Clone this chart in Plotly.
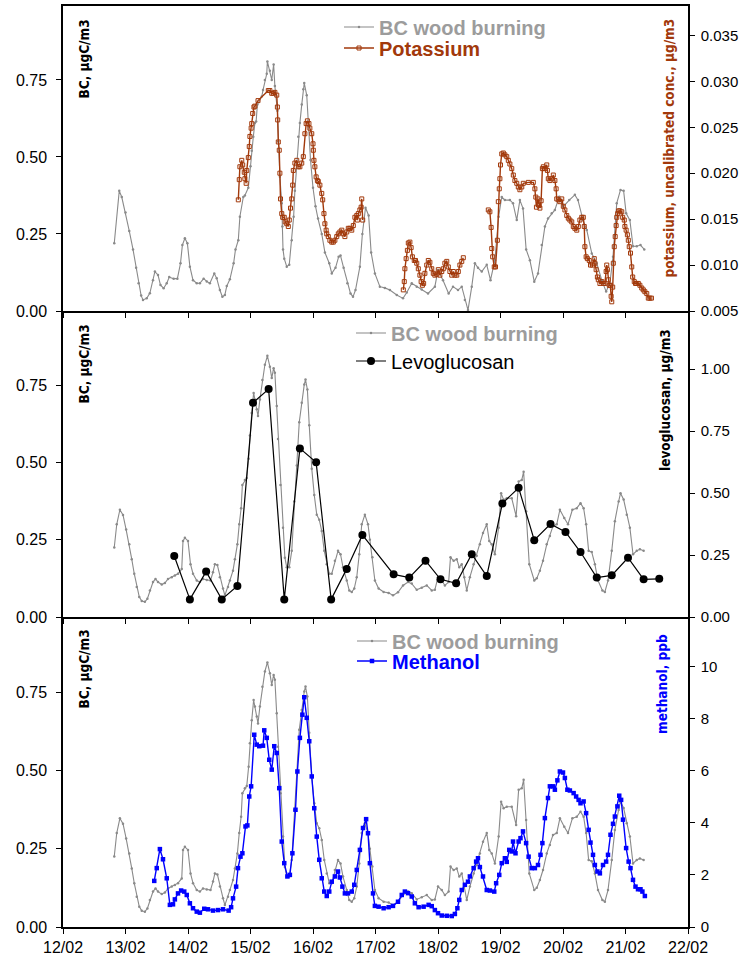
import numpy as np
import pandas as pd
import plotly.graph_objects as go

# ---------------- data (time = day of February, fractional) ----------------
# BC wood burning, series shown with potassium
bc_k_day = [12.82, 12.90, 12.94, 13.00, 13.06, 13.12, 13.17, 13.21, 13.25, 13.28, 13.34, 13.39, 13.44,
            13.47, 13.52, 13.56, 13.61, 13.66, 13.70, 13.77, 13.83, 13.88, 13.91, 13.95, 13.99, 14.03,
            14.08, 14.14, 14.19, 14.25, 14.30, 14.35, 14.42, 14.46, 14.51, 14.55, 14.59, 14.62, 14.67,
            14.73, 14.76, 14.805, 14.83, 14.885, 14.91, 14.965, 15.00, 15.02, 15.045, 15.07, 15.09,
            15.11, 15.18, 15.20, 15.23, 15.26, 15.27, 15.31, 15.34, 15.37, 15.39, 15.43, 15.445, 15.47,
            15.50, 15.51, 15.52, 15.54, 15.58, 15.62, 15.66, 15.69, 15.71, 15.74, 15.765, 15.79, 15.82,
            15.845, 15.86, 15.90, 15.93, 15.96, 16.00, 16.04, 16.08, 16.14, 16.19, 16.26, 16.30, 16.36,
            16.41, 16.44, 16.49, 16.55, 16.60, 16.64, 16.68, 16.75, 16.79, 16.84, 16.89, 16.93, 16.99,
            17.07, 17.15, 17.23, 17.34, 17.44, 17.50, 17.58, 17.66, 17.74, 17.84, 17.95, 18.00, 18.08,
            18.17, 18.24, 18.32, 18.38, 18.43, 18.48, 18.54, 18.59, 18.64, 18.70, 18.78, 18.84, 18.91,
            18.97, 19.02, 19.07, 19.15, 19.20, 19.26, 19.31, 19.36, 19.41, 19.47, 19.54, 19.60, 19.66,
            19.71, 19.76, 19.82, 19.87, 19.94, 20.00, 20.10, 20.19, 20.24, 20.32, 20.38, 20.46, 20.54,
            20.62, 20.69, 20.75, 20.80, 20.86, 20.92, 20.97, 21.01, 21.07, 21.12, 21.18, 21.24, 21.30]
bc_k = [0.22, 0.39, 0.37, 0.32, 0.26, 0.20, 0.14, 0.09, 0.05, 0.036, 0.041, 0.058, 0.10,
        0.128, 0.117, 0.084, 0.074, 0.09, 0.11, 0.105, 0.105, 0.155, 0.214, 0.236, 0.22, 0.144,
        0.10, 0.09, 0.09, 0.105, 0.096, 0.09, 0.122, 0.106, 0.068, 0.046, 0.052, 0.081, 0.103,
        0.155, 0.20, 0.23, 0.306, 0.37, 0.375, 0.40, 0.47, 0.52, 0.566, 0.61, 0.615,
        0.67, 0.696, 0.717, 0.75, 0.77, 0.81, 0.78, 0.75, 0.80, 0.73, 0.65, 0.55, 0.436,
        0.35, 0.274, 0.20, 0.17, 0.144, 0.15, 0.23, 0.306, 0.39, 0.48, 0.566, 0.61, 0.67,
        0.72, 0.74, 0.70, 0.60, 0.49, 0.40, 0.34, 0.30, 0.25, 0.19, 0.155, 0.122, 0.14,
        0.176, 0.18, 0.14, 0.09, 0.057, 0.046, 0.068, 0.144, 0.25, 0.335, 0.31, 0.19, 0.122,
        0.079, 0.075, 0.068, 0.052, 0.041, 0.06, 0.09, 0.079, 0.07, 0.057, 0.079, 0.133, 0.10,
        0.057, 0.079, 0.068, 0.079, 0.036, 0.003, 0.079, 0.155, 0.14, 0.128, 0.15, 0.10, 0.165,
        0.306, 0.37, 0.36, 0.36, 0.35, 0.295, 0.36, 0.333, 0.20, 0.165, 0.095, 0.122, 0.214,
        0.274, 0.30, 0.317, 0.328, 0.371, 0.338, 0.36, 0.377, 0.36, 0.295, 0.263, 0.187, 0.155,
        0.10, 0.063, 0.09, 0.176, 0.35, 0.393, 0.39, 0.317, 0.295, 0.21, 0.21, 0.214, 0.20]

# Potassium, uncalibrated (None = no data)
k_day = [14.805, 14.82, 14.83, 14.86, 14.875, 14.90, 14.91, 14.93, 14.94, 14.965, 14.98, 14.99, 15.01,
         15.02, 15.035, 15.055, 15.07, 15.12, 15.285, 15.31, 15.34, 15.365, 15.39, 15.42, 15.43, 15.435,
         15.445, 15.46, 15.47, 15.48, 15.50, 15.515, 15.54, 15.555, 15.58, 15.605, 15.62, 15.64, 15.66,
         15.675, 15.685, 15.71, 15.74, 15.765, 15.79, 15.82, 15.845, 15.87, 15.89, 15.91, 15.935, 15.95,
         15.98, 16.00, 16.005, 16.015, 16.03, 16.05, 16.07, 16.085, 16.11, 16.14, 16.155, 16.175, 16.19,
         16.21, 16.22, 16.245, 16.27, 16.30, 16.325, 16.35, 16.38, 16.405, 16.43, 16.46, 16.485, 16.51,
         16.54, 16.565, 16.59, 16.62, 16.645, 16.67, 16.70, 16.71, 16.725, 16.75, 16.77, 16.78, 16.795,
         None,
         17.445, 17.46, 17.47, 17.49, 17.51, 17.525, 17.55, 17.57, 17.59, 17.62, 17.64, 17.66, 17.685,
         17.71, 17.73, 17.75, 17.77, 17.79, 17.82, 17.845, 17.87, 17.90, 17.925, 17.95, 17.98, 18.005,
         18.03, 18.06, 18.085, 18.11, 18.14, 18.165, 18.19, 18.22, 18.245, 18.27, 18.30, 18.325, 18.35,
         18.38, 18.405,
         None,
         18.805, 18.83, 18.85, 18.86, 18.875, 18.90, 18.92, 18.95, 18.965, 18.98, 18.99, 19.00, 19.02,
         19.045, 19.07, 19.10, 19.125, 19.15, 19.18, 19.205, 19.23, 19.26, 19.285, 19.31, 19.34, 19.365,
         19.445, 19.525, 19.55, 19.565, 19.575, 19.60, 19.62, 19.63, 19.65, 19.67, 19.685, 19.71, 19.74,
         19.75, 19.765, 19.79, 19.82, 19.845, 19.87, 19.89, 19.90, 19.925, 19.95, 19.98, 20.005, 20.03,
         20.06, 20.085, 20.11, 20.14, 20.165, 20.19, 20.22, 20.245, 20.27, 20.30, 20.325, 20.34, 20.35,
         20.37, 20.39, 20.42, 20.44, 20.47, 20.50, 20.51, 20.53, 20.55, 20.565, 20.59, 20.62, 20.645,
         20.67, 20.69, 20.70, 20.71, 20.725, 20.74, 20.755, 20.77, 20.78, 20.795, 20.805, 20.82, 20.835,
         20.85, 20.86, 20.875, 20.89, 20.91, 20.94, 20.955, 20.98, 20.99, 21.01, 21.03, 21.045, 21.06,
         21.08, 21.10, 21.115, 21.14, 21.16, 21.18, 21.205, 21.23, 21.26, 21.285, 21.31, 21.34, 21.365,
         21.39, 21.415]
k_val = [0.0171, 0.0193, 0.0207, 0.0214, 0.0209, 0.0201, 0.0194, 0.0189, 0.0203, 0.0217, 0.0229, 0.0240, 0.0249,
         0.0254, 0.0265, 0.0272, 0.0273, 0.0279, 0.0290, 0.0290, 0.0287, 0.0287, 0.0288, 0.0285, 0.0272, 0.0258,
         0.0234, 0.0225, 0.0200, 0.0172, 0.0156, 0.0152, 0.0152, 0.0147, 0.0145, 0.0142, 0.0149, 0.0162, 0.0172,
         0.0187, 0.0203, 0.0211, 0.0214, 0.0207, 0.0207, 0.0211, 0.0218, 0.0243, 0.0254, 0.0257, 0.0254, 0.0249,
         0.0243, 0.0232, 0.0225, 0.0214, 0.0207, 0.0196, 0.0192, 0.0191, 0.0187, 0.0178, 0.0171, 0.0156, 0.0145,
         0.0138, 0.0134, 0.0131, 0.0127, 0.0125, 0.0125, 0.0127, 0.0131, 0.0134, 0.0136, 0.0138, 0.0134, 0.0131,
         0.0136, 0.0140, 0.0140, 0.0138, 0.0143, 0.0152, 0.0154, 0.0149, 0.0156, 0.0160, 0.0163, 0.0172, 0.0149,
         None,
         0.0073, 0.0082, 0.0096, 0.0107, 0.0116, 0.0124, 0.0125, 0.0119, 0.0109, 0.0105, 0.0105, 0.0102, 0.0096,
         0.0089, 0.0082, 0.0078, 0.0080, 0.0091, 0.0100, 0.0105, 0.0103, 0.0096, 0.0091, 0.0089, 0.0090, 0.0095,
         0.0089, 0.0093, 0.0096, 0.0102, 0.0104, 0.0098, 0.0093, 0.0089, 0.0093, 0.0089, 0.0089, 0.0093, 0.0100,
         0.0104, 0.0108,
         None,
         0.0160, 0.0158, 0.0141, 0.0118, 0.0109, 0.0098, 0.0098, 0.0127, 0.0169, 0.0183, 0.0194, 0.0209, 0.0221,
         0.0222, 0.0220, 0.0218, 0.0214, 0.0210, 0.0205, 0.0198, 0.0192, 0.0189, 0.0185, 0.0182, 0.0185, 0.0189,
         0.0190, 0.0190, 0.0183, 0.0174, 0.0163, 0.0172, 0.0165, 0.0162, 0.0170, 0.0205, 0.0207, 0.0205, 0.0209,
         0.0203, 0.0194, 0.0192, 0.0194, 0.0198, 0.0192, 0.0183, 0.0172, 0.0171, 0.0169, 0.0172, 0.0164, 0.0160,
         0.0154, 0.0151, 0.0149, 0.0147, 0.0142, 0.0140, 0.0138, 0.0142, 0.0149, 0.0152, 0.0152, 0.0142, 0.0120,
         0.0109, 0.0107, 0.0105, 0.0100, 0.0100, 0.0107, 0.0102, 0.0095, 0.0087, 0.0084, 0.0080, 0.0082, 0.0080,
         0.0080, 0.0093, 0.0100, 0.0095, 0.0084, 0.0078, 0.0078, 0.0066, 0.0060, 0.0076, 0.0102, 0.0120, 0.0131,
         0.0143, 0.0152, 0.0156, 0.0159, 0.0159, 0.0158, 0.0152, 0.0149, 0.0142, 0.0138, 0.0133, 0.0127, 0.0120,
         0.0113, 0.0098, 0.0087, 0.0082, 0.0080, 0.0080, 0.0080, 0.0078, 0.0075, 0.0073, 0.0071, 0.0069, 0.0064,
         0.0064, 0.0064]

# BC wood burning, series shown with levoglucosan and methanol
bc_day = [12.82, 12.86, 12.91, 12.96, 13.01, 13.06, 13.10, 13.14, 13.18, 13.22, 13.26, 13.31, 13.35, 13.39,
          13.44, 13.48, 13.52, 13.58, 13.63, 13.68, 13.74, 13.79, 13.84, 13.90, 13.92, 13.95, 14.00, 14.04,
          14.08, 14.14, 14.19, 14.24, 14.30, 14.36, 14.40, 14.43, 14.47, 14.51, 14.56, 14.59, 14.64, 14.67,
          14.72, 14.75, 14.79, 14.82, 14.85, 14.87, 14.91, 14.94, 14.97, 14.99, 15.02, 15.05, 15.07, 15.10,
          15.12, 15.15, 15.19, 15.23, 15.27, 15.31, 15.34, 15.37, 15.39, 15.42, 15.44, 15.48, 15.52, 15.55,
          15.58, 15.62, 15.66, 15.70, 15.74, 15.78, 15.82, 15.86, 15.88, 15.91, 15.94, 15.98, 16.02, 16.06,
          16.10, 16.14, 16.18, 16.22, 16.26, 16.30, 16.35, 16.40, 16.44, 16.48, 16.54, 16.58, 16.62, 16.66,
          16.70, 16.74, 16.78, 16.83, 16.88, 16.91, 16.95, 16.99, 17.05, 17.13, 17.21, 17.28, 17.36, 17.44,
          17.52, 17.58, 17.66, 17.74, 17.82, 17.90, 17.95, 18.00, 18.06, 18.11, 18.17, 18.20, 18.25, 18.30,
          18.34, 18.38, 18.42, 18.46, 18.51, 18.57, 18.62, 18.67, 18.72, 18.78, 18.82, 18.86, 18.91, 18.97,
          19.01, 19.05, 19.10, 19.18, 19.25, 19.29, 19.34, 19.37, 19.41, 19.46, 19.54, 19.58, 19.63, 19.68,
          19.74, 19.79, 19.84, 19.90, 19.95, 20.02, 20.08, 20.15, 20.22, 20.28, 20.33, 20.37, 20.41, 20.46,
          20.51, 20.56, 20.63, 20.67, 20.72, 20.78, 20.83, 20.89, 20.92, 20.97, 21.02, 21.07, 21.12, 21.18,
          21.23, 21.29]
bc = [0.225, 0.30, 0.347, 0.33, 0.283, 0.235, 0.187, 0.14, 0.097, 0.065, 0.052, 0.049, 0.059, 0.086,
      0.113, 0.123, 0.113, 0.105, 0.11, 0.123, 0.129, 0.134, 0.14, 0.155, 0.246, 0.256, 0.246, 0.171,
      0.14, 0.118, 0.113, 0.123, 0.12, 0.118, 0.145, 0.171, 0.168, 0.129, 0.092, 0.07, 0.097, 0.118,
      0.15, 0.187, 0.235, 0.30, 0.352, 0.427, 0.443, 0.45, 0.512, 0.587, 0.66, 0.725, 0.704, 0.672,
      0.65, 0.704, 0.767, 0.816, 0.845, 0.81, 0.773, 0.805, 0.79, 0.683, 0.576, 0.427, 0.289, 0.192,
      0.161, 0.161, 0.214, 0.374, 0.49, 0.63, 0.693, 0.752, 0.768, 0.736, 0.62, 0.48, 0.395, 0.331,
      0.315, 0.278, 0.214, 0.171, 0.14, 0.14, 0.182, 0.214, 0.203, 0.161, 0.118, 0.086, 0.081, 0.092,
      0.129, 0.203, 0.30, 0.331, 0.30, 0.25, 0.193, 0.118, 0.092, 0.081, 0.078, 0.07, 0.08, 0.102,
      0.113, 0.108, 0.088, 0.095, 0.102, 0.086, 0.088, 0.129, 0.118, 0.102, 0.113, 0.193, 0.182, 0.187,
      0.161, 0.171, 0.129, 0.086, 0.129, 0.171, 0.198, 0.235, 0.272, 0.30, 0.246, 0.235, 0.203, 0.289,
      0.40, 0.379, 0.384, 0.384, 0.326, 0.438, 0.443, 0.47, 0.342, 0.171, 0.118, 0.125, 0.15, 0.182,
      0.235, 0.262, 0.294, 0.30, 0.347, 0.32, 0.30, 0.347, 0.352, 0.368, 0.352, 0.30, 0.214, 0.21,
      0.171, 0.118, 0.086, 0.081, 0.118, 0.214, 0.31, 0.374, 0.40, 0.38, 0.331, 0.289, 0.203, 0.214,
      0.219, 0.214]

# Levoglucosan (filter samples)
levo_day = [13.78, 14.03, 14.29, 14.54, 14.79, 15.04, 15.29, 15.54, 15.79, 16.05, 16.29, 16.54, 16.79,
            17.29, 17.54, 17.80, 18.04, 18.29, 18.54, 18.78, 19.03, 19.29, 19.54, 19.80, 20.04, 20.28,
            20.54, 20.78, 21.04, 21.29, 21.54]
levo = [0.246, 0.071, 0.183, 0.071, 0.125, 0.864, 0.919, 0.071, 0.68, 0.624, 0.071, 0.194, 0.331,
        0.172, 0.159, 0.227, 0.152, 0.136, 0.253, 0.165, 0.458, 0.521, 0.31, 0.375, 0.343, 0.262,
        0.159, 0.168, 0.239, 0.152, 0.154]

# Methanol
meoh_day = [13.46, 13.50, 13.55, 13.60, 13.66, 13.71, 13.76, 13.79, 13.84, 13.89, 13.94, 13.98, 14.03, 14.08,
            14.14, 14.19, 14.26, 14.32, 14.40, 14.48, 14.56, 14.65, 14.69, 14.72, 14.77, 14.80, 14.84, 14.87,
            14.92, 14.95, 14.98, 15.01, 15.06, 15.10, 15.14, 15.20, 15.22, 15.26, 15.30, 15.34, 15.38, 15.42,
            15.46, 15.50, 15.54, 15.59, 15.63, 15.67, 15.72, 15.75, 15.79, 15.83, 15.86, 15.90, 15.94, 15.98,
            16.02, 16.06, 16.10, 16.14, 16.18, 16.22, 16.26, 16.30, 16.35, 16.40, 16.43, 16.47, 16.51, 16.56,
            16.62, 16.66, 16.70, 16.75, 16.80, 16.85, 16.88, 16.91, 16.96, 16.99, 17.05, 17.13, 17.21, 17.28,
            17.36, 17.42, 17.47, 17.52, 17.58, 17.63, 17.69, 17.77, 17.85, 17.90, 17.95, 18.00, 18.06, 18.14,
            18.22, 18.27, 18.31, 18.34, 18.38, 18.43, 18.48, 18.51, 18.57, 18.61, 18.64, 18.67, 18.72, 18.78,
            18.83, 18.90, 18.93, 18.98, 19.02, 19.07, 19.10, 19.14, 19.18, 19.20, 19.24, 19.29, 19.32, 19.36,
            19.41, 19.45, 19.50, 19.55, 19.60, 19.64, 19.67, 19.71, 19.76, 19.79, 19.84, 19.87, 19.91, 19.95,
            20.00, 20.03, 20.07, 20.11, 20.17, 20.21, 20.25, 20.28, 20.33, 20.37, 20.41, 20.44, 20.48, 20.51,
            20.55, 20.59, 20.64, 20.69, 20.72, 20.76, 20.80, 20.83, 20.87, 20.90, 20.93, 20.96, 21.01, 21.05,
            21.08, 21.12, 21.16, 21.20, 21.24, 21.27, 21.31]
meoh = [1.77, 2.26, 2.99, 2.60, 1.87, 0.85, 0.87, 1.06, 1.29, 1.40, 1.36, 1.23, 0.91, 0.72,
        0.59, 0.55, 0.70, 0.68, 0.63, 0.65, 0.68, 0.63, 0.76, 1.10, 1.55, 2.26, 2.70, 2.83,
        3.86, 3.90, 5.01, 5.40, 7.38, 7.00, 6.94, 6.96, 7.55, 7.26, 6.42, 6.04, 6.94, 6.68,
        5.33, 3.28, 2.45, 1.94, 2.00, 2.83, 4.50, 5.97, 7.26, 8.15, 8.82, 8.03, 7.13, 5.78,
        4.56, 3.47, 2.58, 1.87, 1.36, 1.19, 1.36, 1.74, 1.94, 2.13, 1.90, 1.55, 1.29, 1.29,
        1.36, 1.62, 2.19, 2.96, 3.80, 4.14, 3.60, 2.45, 1.29, 0.81, 0.78, 0.72, 0.76, 0.81,
        0.97, 1.23, 1.36, 1.30, 1.17, 0.91, 0.76, 0.78, 0.85, 0.80, 0.65, 0.53, 0.44, 0.43,
        0.42, 0.50, 0.72, 1.04, 1.42, 1.62, 1.74, 1.94, 2.26, 2.51, 2.64, 2.30, 1.94, 1.42,
        1.40, 1.36, 1.68, 2.00, 2.45, 2.64, 2.50, 2.96, 2.90, 3.28, 2.83, 3.28, 3.41, 3.67,
        3.22, 2.70, 2.26, 2.26, 2.38, 2.77, 3.22, 4.18, 4.95, 5.40, 5.40, 5.27, 5.63, 5.97,
        5.93, 5.72, 5.27, 5.24, 5.14, 5.01, 4.88, 4.75, 4.82, 4.37, 3.73, 3.24, 2.77, 2.38,
        2.13, 2.06, 2.38, 2.51, 2.77, 3.54, 3.96, 4.24, 4.63, 5.04, 4.88, 4.12, 3.03, 2.51,
        2.26, 1.81, 1.55, 1.45, 1.45, 1.36, 1.19]

x_tick_days = list(range(12, 23))

# ---------------- helpers ----------------
BASE = pd.Timestamp("2010-02-01")


def to_time(days):
    return [None if d is None else BASE + pd.Timedelta(days=d - 1) for d in days]


GRAY = "#8a8a8a"
GRAY_TXT = "#9c9c9c"
BROWN = "#a2390b"
BLUE = "#0000ff"
FONT = "Liberation Sans, Arial, Helvetica, sans-serif"
NARROW = "DejaVu Sans Condensed, Arial Narrow, sans-serif"

# plot area spans x 63..688 px and y 6..927 px; three panels stacked
W_PLOT = 625.0
H_PLOT = 921.0
P3 = [0.0, (927 - 617) / H_PLOT]
P2 = [P3[1], (927 - 311) / H_PLOT]
P1 = [P2[1], 1.0]


def px_x(px):
    return (px - 63) / W_PLOT


def px_y(py):
    return (927 - py) / H_PLOT


fig = go.Figure()

bc_line = dict(color=GRAY, width=1.1)
bc_marker = dict(color=GRAY, size=2.5, symbol="circle")
bc_name = f"<b><span style='color:{GRAY_TXT}'>BC wood burning</span></b>"

# panel 1: BC + potassium
fig.add_trace(go.Scatter(x=to_time(bc_k_day), y=bc_k, mode="lines+markers", line=bc_line,
                         marker=bc_marker, name=bc_name, xaxis="x3", yaxis="y5", legend="legend"))
fig.add_trace(go.Scatter(x=to_time(k_day), y=k_val, mode="lines+markers", connectgaps=False,
                         line=dict(color=BROWN, width=1.4),
                         marker=dict(symbol="square-open", size=4, color=BROWN, line=dict(width=1, color=BROWN)),
                         name=f"<b><span style='color:{BROWN}'>Potassium</span></b>",
                         xaxis="x3", yaxis="y6", legend="legend2"))

# panel 2: BC + levoglucosan
fig.add_trace(go.Scatter(x=to_time(bc_day), y=bc, mode="lines+markers", line=bc_line,
                         marker=bc_marker, name=bc_name, xaxis="x2", yaxis="y3", legend="legend3"))
fig.add_trace(go.Scatter(x=to_time(levo_day), y=levo, mode="lines+markers",
                         line=dict(color="black", width=1.2),
                         marker=dict(symbol="circle", size=8, color="black"),
                         name="Levoglucosan", xaxis="x2", yaxis="y4", legend="legend4"))

# panel 3: BC + methanol
fig.add_trace(go.Scatter(x=to_time(bc_day), y=bc, mode="lines+markers", line=bc_line,
                         marker=bc_marker, name=bc_name, xaxis="x", yaxis="y", legend="legend5"))
fig.add_trace(go.Scatter(x=to_time(meoh_day), y=meoh, mode="lines+markers",
                         line=dict(color=BLUE, width=1.4),
                         marker=dict(symbol="square", size=4.5, color=BLUE),
                         name=f"<b><span style='color:{BLUE}'>Methanol</span></b>",
                         xaxis="x", yaxis="y2", legend="legend6"))

x_range = [BASE + pd.Timedelta(days=11), BASE + pd.Timedelta(days=21)]
x_ticks = to_time(x_tick_days)
common_x = dict(type="date", range=x_range, tickvals=x_ticks, tickformat="%d/%m", showgrid=False,
                zeroline=False, showline=True, linecolor="black", linewidth=1.5, ticks="outside",
                ticklen=5, tickwidth=1.2, tickcolor="black", domain=[0, 1], automargin=False,
                tickfont=dict(family=FONT, size=16, color="black"))

left_y = dict(range=[0, 0.99], tickvals=[0, 0.25, 0.5, 0.75], tickformat=".2f", showgrid=False,
              zeroline=False, showline=True, linecolor="black", linewidth=1.5, ticks="outside",
              ticklen=5, tickwidth=1.2, tickcolor="black", ticklabelstandoff=6, automargin=False,
              tickfont=dict(family=FONT, size=16, color="black"))
right_y = dict(side="right", showgrid=False, zeroline=False, showline=True, linecolor="black",
               linewidth=1.5, ticks="outside", ticklen=5, tickwidth=1.2, tickcolor="black",
               ticklabelstandoff=3, automargin=False,
               tickfont=dict(family=FONT, size=15, color="black"))


def legend_at(x_px, center_px):
    return dict(x=px_x(x_px), y=px_y(center_px), xanchor="left", yanchor="middle",
                bgcolor="rgba(0,0,0,0)", borderwidth=0,
                font=dict(family=FONT, size=20, color="black"))


fig.update_layout(
    width=739, height=956,
    margin=dict(l=63, r=51, t=6, b=29, autoexpand=False),
    paper_bgcolor="white", plot_bgcolor="white",
    font=dict(family=FONT, size=16, color="black"),
    xaxis=dict(common_x, anchor="y", ticklabelstandoff=0),
    xaxis2=dict(common_x, anchor="y3", matches="x", showticklabels=False),
    xaxis3=dict(common_x, anchor="y5", matches="x", showticklabels=False, mirror=True),
    yaxis=dict(left_y, domain=P3, anchor="x"),
    yaxis2=dict(right_y, domain=P3, anchor="x", overlaying="y", range=[0, 11.9],
                tickvals=[0, 2, 4, 6, 8, 10]),
    yaxis3=dict(left_y, domain=P2, anchor="x2"),
    yaxis4=dict(right_y, domain=P2, anchor="x2", overlaying="y3", range=[0, 1.234],
                tickvals=[0, 0.25, 0.5, 0.75, 1.0], tickformat=".2f"),
    yaxis5=dict(left_y, domain=P1, anchor="x3"),
    yaxis6=dict(right_y, domain=P1, anchor="x3", overlaying="y5", range=[0.005, 0.0382],
                tickvals=[0.005, 0.010, 0.015, 0.020, 0.025, 0.030, 0.035], tickformat=".3f"),
    legend=legend_at(339, 27),
    legend2=legend_at(339, 48),
    legend3=legend_at(351, 333),
    legend4=legend_at(351, 361),
    legend5=legend_at(352, 641),
    legend6=legend_at(352, 661),
    showlegend=True,
)


def ytitle(text, x_px, top_px, color="black"):
    fig.add_annotation(text=f"<b>{text}</b>", xref="paper", yref="paper",
                       x=px_x(x_px), y=px_y(top_px), xanchor="center", yanchor="top",
                       textangle=-90, showarrow=False,
                       font=dict(family=NARROW, size=13.5, color=color))


ytitle("BC, µgC/m3", 83, 18)
ytitle("BC, µgC/m3", 83, 323)
ytitle("BC, µgC/m3", 83, 628)
ytitle("potassium, uncalibrated conc., µg/m3", 668, 17, BROWN)
ytitle("levoglucosan, µg/m3", 665, 327)
ytitle("methanol, ppb", 662, 632, BLUE)

fig.write_html("out.html")
